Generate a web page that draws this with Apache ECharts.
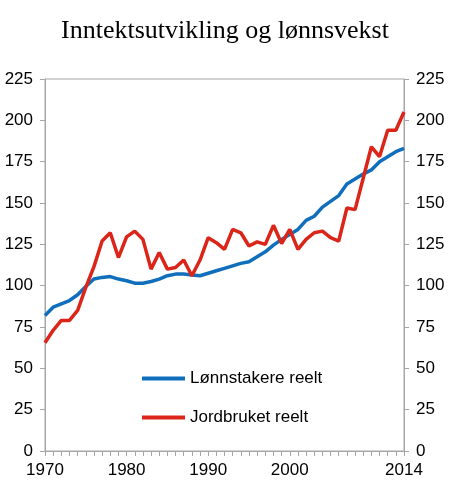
<!DOCTYPE html>
<html>
<head>
<meta charset="utf-8">
<script src="https://cdn.jsdelivr.net/npm/echarts@6/dist/echarts.min.js"></script>
<style>
html,body{margin:0;padding:0;background:#fff;}
#chart{width:450px;height:501px;}
</style>
</head>
<body>
<div id="chart"></div>
<script>
var years = [];
for (var y = 1970; y <= 2014; y++) years.push(String(y));
var xTickLabels = ['1970', '1980', '1990', '2000', '2014'];
var lonnstakere = [
  82, 87, 89, 91, 94.5, 99.5, 104, 105, 105.5, 104,
  103, 101.5, 101.5, 102.5, 104, 106, 107, 107, 106.5, 106,
  107.5, 109, 110.5, 112, 113.5, 114.5, 117.5, 120.5, 124.5, 128,
  131, 134, 139.5, 142, 147.5, 151, 154.5, 161.5, 164.5, 167.5,
  170, 175, 178, 181, 183
];
var jordbruket = [
  65.5, 73, 79, 79, 85, 99, 111.5, 127, 132, 117,
  129.5, 133, 128, 110, 120, 110, 111, 115.5, 106, 115.5,
  129, 126, 122, 134, 132, 124, 126.5, 125, 136.5, 125.5,
  134, 122, 128, 132, 133, 129, 127, 147, 146, 165,
  184, 178, 194, 194, 205
];
var seriesNames = ['Lønnstakere reelt', 'Jordbruket reelt'];
var titleText = 'Inntektsutvikling og lønnsvekst';

var axisGray = '#a6a6a6';
var labelFont = 'Liberation Sans, Arial, sans-serif';

var chart = echarts.init(document.getElementById('chart'));
var yAxisBase = function (pos) {
  return {
    type: 'value', position: pos, min: 0, max: 225, interval: 25,
    axisLine: { show: true, lineStyle: { color: axisGray, width: 1 } },
    axisTick: { show: true, length: 5, lineStyle: { color: axisGray } },
    splitLine: { show: false },
    axisLabel: { color: '#000', fontSize: 17, fontFamily: labelFont, margin: 12 }
  };
};
chart.setOption({
  animation: false,
  title: {
    text: titleText, left: 'center', top: 13,
    textStyle: { fontFamily: 'Liberation Serif, Times New Roman, serif', fontSize: 26, fontWeight: 'normal', color: '#000' }
  },
  grid: { left: 45, right: 46, top: 79, bottom: 50, show: true, borderColor: axisGray, borderWidth: 1, backgroundColor: 'transparent' },
  legend: {
    orient: 'vertical', left: 142, top: 370, padding: 0,
    icon: 'rect', itemWidth: 43, itemHeight: 4, itemGap: 22,
    textStyle: { fontSize: 17, fontFamily: labelFont, color: '#000', padding: [0, 0, 0, 0] },
    data: seriesNames
  },
  xAxis: {
    type: 'category', data: years, boundaryGap: false,
    axisLine: { show: true, lineStyle: { color: axisGray, width: 1 } },
    axisTick: { show: true, interval: 0, length: 5, lineStyle: { color: axisGray } },
    axisLabel: {
      color: '#000', fontSize: 17, fontFamily: labelFont, margin: 11,
      interval: function (i, v) { return xTickLabels.indexOf(v) >= 0; }
    },
    splitLine: { show: false }
  },
  yAxis: [yAxisBase('left'), yAxisBase('right')],
  series: [
    {
      name: seriesNames[0], type: 'line', data: lonnstakere, yAxisIndex: 0,
      showSymbol: false, color: '#0f6fbd', lineStyle: { width: 3.5, color: '#0f6fbd' }
    },
    {
      name: seriesNames[1], type: 'line', data: jordbruket, yAxisIndex: 0,
      showSymbol: false, color: '#dc2519', lineStyle: { width: 3.5, color: '#dc2519' }
    }
  ]
});
</script>
</body>
</html>
